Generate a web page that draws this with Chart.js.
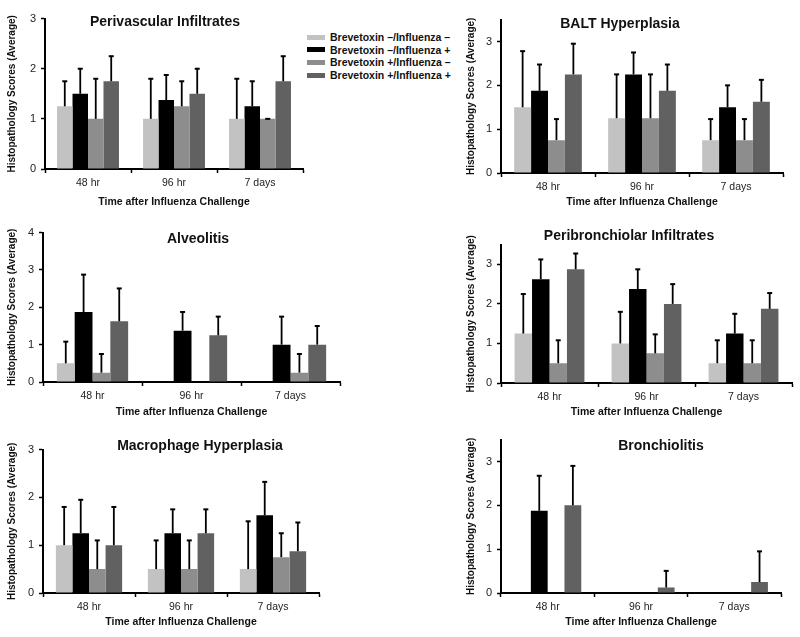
<!DOCTYPE html>
<html>
<head>
<meta charset="utf-8">
<script src="https://cdn.jsdelivr.net/npm/chart.js@4.4.1/dist/chart.umd.min.js"></script>
<style>
  body { margin: 0; background: #fff; }
  #wrap { position: relative; width: 800px; height: 637px; overflow: hidden; font-family: "Liberation Sans", Arial, sans-serif; }
  canvas { position: absolute; }
  .ptitle { position: absolute; transform: translate(-50%, -50%); font-weight: bold; font-size: 14px; color: #111; white-space: nowrap; }
  .legend { position: absolute; left: 307px; top: 31px; font-weight: bold; font-size: 10.5px; color: #111; }
  .legend div { height: 12.6px; line-height: 12.6px; white-space: nowrap; }
  .legend span { display: inline-block; width: 18px; height: 5px; margin-right: 5px; vertical-align: middle; position: relative; top: -1px; }
</style>
</head>
<body>
<div id="wrap">
  <canvas id="c1"></canvas>
  <canvas id="c2"></canvas>
  <canvas id="c3"></canvas>
  <canvas id="c4"></canvas>
  <canvas id="c5"></canvas>
  <canvas id="c6"></canvas>
  <div class="legend" id="legend"></div>
</div>
<script>
// categories and series
const timePoints = ["48 hr", "96 hr", "7 days"];
const groupNames = [
  "Brevetoxin \u2013/Influenza \u2013",
  "Brevetoxin \u2013/Influenza +",
  "Brevetoxin +/Influenza \u2013",
  "Brevetoxin +/Influenza +"
];
const groupColors = ["#c2c2c2", "#000000", "#8d8d8d", "#616161"];

// mean scores, one row per group (across timePoints)
const periMean = [[1.25, 1.0, 1.0], [1.5, 1.375, 1.25], [1.0, 1.25, 1.0], [1.75, 1.5, 1.75]];
const periErr  = [[0.5, 0.8, 0.8], [0.5, 0.5, 0.5], [0.8, 0.5, 0.0], [0.5, 0.5, 0.5]];

const baltMean = [[1.5, 1.25, 0.75], [1.875, 2.25, 1.5], [0.75, 1.25, 0.75], [2.25, 1.875, 1.625]];
const baltErr  = [[1.28, 1.0, 0.48], [0.6, 0.5, 0.5], [0.48, 1.0, 0.48], [0.7, 0.6, 0.5]];

const alvMean = [[0.5, 0, 0], [1.875, 1.375, 1.0], [0.25, 0, 0.25], [1.625, 1.25, 1.0]];
const alvErr  = [[0.58, 0, 0], [1.0, 0.5, 0.75], [0.5, 0, 0.5], [0.88, 0.5, 0.5]];

const periBrMean = [[1.25, 1.0, 0.5], [2.625, 2.375, 1.25], [0.5, 0.75, 0.5], [2.875, 2.0, 1.875]];
const periBrErr  = [[1.0, 0.8, 0.58], [0.5, 0.5, 0.5], [0.58, 0.48, 0.58], [0.4, 0.5, 0.4]];

const macroMean = [[1.0, 0.5, 0.5], [1.25, 1.25, 1.625], [0.5, 0.5, 0.75], [1.0, 1.25, 0.875]];
const macroErr  = [[0.8, 0.6, 1.0], [0.7, 0.5, 0.7], [0.6, 0.6, 0.5], [0.8, 0.5, 0.6]];

const bronchMean = [[0, 0, 0], [1.875, 0, 0], [0, 0, 0], [2.0, 0.125, 0.25]];
const bronchErr  = [[0, 0, 0], [0.8, 0, 0], [0, 0, 0], [0.9, 0.38, 0.7]];

const FONT = "'Liberation Sans', Arial, sans-serif";

// upward-only error bars
const errorBars = {
  id: "errorBars",
  afterDatasetsDraw(chart) {
    const ctx = chart.ctx;
    const yScale = chart.scales.y;
    ctx.save();
    ctx.strokeStyle = "#000";
    chart.data.datasets.forEach((ds, i) => {
      const meta = chart.getDatasetMeta(i);
      meta.data.forEach((bar, j) => {
        const v = ds.data[j];
        const e = ds.errors[j];
        if (v === 0 && e === 0) return;
        const yTop = yScale.getPixelForValue(v + e);
        ctx.lineWidth = 1.8;
        ctx.beginPath();
        ctx.moveTo(bar.x, bar.y);
        ctx.lineTo(bar.x, yTop);
        ctx.stroke();
        ctx.lineWidth = 2;
        ctx.beginPath();
        ctx.moveTo(bar.x - 2.5, yTop);
        ctx.lineTo(bar.x + 2.5, yTop);
        ctx.stroke();
      });
    });
    ctx.restore();
  }
};

function makePanel(id, box, means, errs) {
  const padTop = 8, padRight = 4;
  const el = document.getElementById(id);
  const w = box.right - (box.left - box.yW) + padRight;
  const h = padTop + (box.bottom - box.top) + box.xH;
  el.width = w;
  el.height = h;
  el.style.left = (box.left - box.yW) + "px";
  el.style.top = (box.top - padTop) + "px";
  el.style.width = w + "px";
  el.style.height = h + "px";

  new Chart(el, {
    type: "bar",
    data: {
      labels: timePoints,
      datasets: groupNames.map((name, i) => ({
        label: name,
        data: means[i],
        errors: errs[i],
        backgroundColor: groupColors[i],
        borderWidth: 0,
        categoryPercentage: 0.72,
        barPercentage: 1.0
      }))
    },
    options: {
      responsive: false,
      animation: false,
      devicePixelRatio: 1,
      layout: { padding: { top: padTop, right: padRight, left: 0, bottom: 0 } },
      plugins: { legend: { display: false }, tooltip: { enabled: false } },
      scales: {
        x: {
          grid: { display: true, drawOnChartArea: false, tickLength: 4, tickWidth: 1.5, tickColor: "#000" },
          border: { display: true, color: "#000", width: 2 },
          ticks: { color: "#222", padding: 4, font: { family: FONT, size: 10.5 } },
          title: {
            display: true,
            text: "Time after Influenza Challenge",
            color: "#111",
            padding: 0,
            font: { family: FONT, size: 10.5, weight: "bold" }
          },
          afterFit(scale) { scale.height = box.xH; }
        },
        y: {
          min: 0,
          max: box.yMax,
          grid: { display: true, drawOnChartArea: false, tickLength: 4, tickWidth: 1.5, tickColor: "#000" },
          border: { display: true, color: "#000", width: 2 },
          ticks: { stepSize: 1, includeBounds: false, color: "#222", padding: 5, font: { family: FONT, size: 11 } },
          title: {
            display: true,
            text: "Histopathology Scores (Average)",
            color: "#111",
            padding: { top: 6, bottom: 0 },
            font: { family: FONT, size: 10, weight: "bold" }
          },
          afterFit(scale) { scale.width = box.yW; }
        }
      }
    },
    plugins: [errorBars]
  });

  const t = document.createElement("div");
  t.className = "ptitle";
  t.textContent = box.title;
  t.style.left = box.tx + "px";
  t.style.top = box.ty + "px";
  document.getElementById("wrap").appendChild(t);
}

makePanel("c1", { title: "Perivascular Infiltrates", tx: 165, ty: 21, left: 45, top: 15, bottom: 169, right: 303, yMax: 3, yW: 45, xH: 39 }, periMean, periErr);
makePanel("c2", { title: "BALT Hyperplasia", tx: 620, ty: 23, left: 501, top: 16, bottom: 173, right: 783, yMax: 3.5, yW: 42, xH: 35 }, baltMean, baltErr);
makePanel("c3", { title: "Alveolitis", tx: 198, ty: 238, left: 43, top: 229, bottom: 382, right: 340, yMax: 4, yW: 43, xH: 36 }, alvMean, alvErr);
makePanel("c4", { title: "Peribronchiolar Infiltrates", tx: 629, ty: 235, left: 501, top: 241, bottom: 383, right: 792, yMax: 3.5, yW: 42, xH: 35 }, periBrMean, periBrErr);
makePanel("c5", { title: "Macrophage Hyperplasia", tx: 200, ty: 445, left: 43, top: 446, bottom: 593, right: 319, yMax: 3, yW: 43, xH: 35 }, macroMean, macroErr);
makePanel("c6", { title: "Bronchiolitis", tx: 661, ty: 445, left: 501, top: 436, bottom: 593, right: 781, yMax: 3.5, yW: 42, xH: 35 }, bronchMean, bronchErr);

// legend
const legendEl = document.getElementById("legend");
groupNames.forEach((name, i) => {
  const row = document.createElement("div");
  const sw = document.createElement("span");
  sw.style.background = groupColors[i];
  row.appendChild(sw);
  row.appendChild(document.createTextNode(name));
  legendEl.appendChild(row);
});
</script>
</body>
</html>
